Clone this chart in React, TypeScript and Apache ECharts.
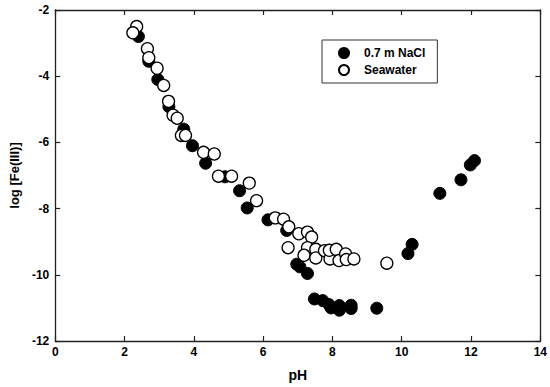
import React, { useEffect, useRef } from "react";
import * as echarts from "echarts";

const xTicks = [0, 2, 4, 6, 8, 10, 12, 14];
const yTicks = [-12, -10, -8, -6, -4, -2];

const naclPH = [2.4, 2.7, 2.96, 3.28, 3.71, 3.96, 4.34, 4.9, 5.32, 5.54, 6.14, 6.68, 6.97, 7.06, 7.28, 7.48, 7.72, 7.9, 7.96, 8.2, 8.2, 8.54, 8.54, 9.28, 10.18, 10.3, 11.1, 11.71, 11.98, 12.1];
const naclFe = [-2.8, -3.55, -4.1, -4.92, -5.6, -6.1, -6.63, -7.04, -7.46, -7.98, -8.34, -8.66, -9.68, -9.76, -9.96, -10.73, -10.78, -10.9, -11.0, -10.93, -11.07, -10.92, -11.02, -11.01, -9.36, -9.08, -7.54, -7.13, -6.68, -6.55];

const swPH = [2.35, 2.24, 2.66, 2.7, 2.94, 3.13, 3.27, 3.4, 3.52, 3.64, 3.76, 4.28, 4.59, 4.71, 5.09, 5.6, 5.81, 6.35, 6.59, 6.74, 6.72, 7.03, 7.28, 7.4, 7.28, 7.18, 7.52, 7.52, 7.77, 7.93, 7.91, 8.11, 8.19, 8.38, 8.4, 8.62, 9.57];
const swFe = [-2.5, -2.69, -3.17, -3.44, -3.76, -4.28, -4.76, -5.18, -5.27, -5.79, -5.79, -6.3, -6.35, -7.02, -7.02, -7.23, -7.76, -8.28, -8.32, -8.55, -9.18, -8.76, -8.71, -8.86, -9.18, -9.41, -9.23, -9.49, -9.27, -9.52, -9.26, -9.23, -9.57, -9.37, -9.54, -9.52, -9.65];

const FONT = "'Liberation Sans', Arial, sans-serif";

export default function App() {
  const ref = useRef<HTMLDivElement>(null);
  useEffect(() => {
    if (!ref.current) return;
    const chart = echarts.init(ref.current, null, { renderer: "svg" });
    const axisCommon = {
      axisLine: { show: true, onZero: false, lineStyle: { color: "#222", width: 1.3 } },
      axisTick: { show: true, inside: true, length: 5, lineStyle: { color: "#222", width: 1.2 } },
      splitLine: { show: false },
    };
    chart.setOption({
      animation: false,
      backgroundColor: "#fff",
      grid: { left: 51, right: 9, top: 10, bottom: 41 },
      xAxis: [
        {
          type: "value", min: 0, max: 14, interval: 2, position: "bottom",
          name: "pH", nameLocation: "middle", nameGap: 27,
          nameTextStyle: { fontFamily: FONT, fontWeight: "bold", fontSize: 14, color: "#000" },
          axisLabel: { fontFamily: FONT, fontWeight: "bold", fontSize: 12, color: "#000", margin: 5,
            formatter: (v: number) => (xTicks.includes(v) ? String(v) : "") },
          ...axisCommon,
        },
        {
          type: "value", min: 0, max: 14, interval: 2, position: "top",
          axisLabel: { show: false }, ...axisCommon,
        },
      ],
      yAxis: [
        {
          type: "value", min: -12, max: -2, interval: 2, position: "left",
          name: "log [Fe(III)]", nameLocation: "middle", nameGap: 30,
          nameTextStyle: { fontFamily: FONT, fontWeight: "bold", fontSize: 13, color: "#000" },
          axisLabel: { fontFamily: FONT, fontWeight: "bold", fontSize: 12, color: "#000", margin: 6,
            formatter: (v: number) => (yTicks.includes(v) ? String(v) : "") },
          ...axisCommon,
        },
        {
          type: "value", min: -12, max: -2, interval: 2, position: "right",
          axisLabel: { show: false }, ...axisCommon,
        },
      ],
      legend: {
        orient: "vertical", left: 322, top: 40, itemGap: 5,
        padding: [7, 12, 7, 16],
        borderColor: "#333", borderWidth: 1,
        itemWidth: 10, itemHeight: 10,
        textStyle: { fontFamily: FONT, fontWeight: "bold", fontSize: 12, color: "#000", padding: [0, 0, 0, 10] },
        data: [
          { name: "0.7 m NaCl", icon: "circle" },
          { name: "Seawater", icon: "circle" },
        ],
      },
      series: [
        {
          name: "0.7 m NaCl", type: "scatter", symbol: "circle", symbolSize: 12,
          data: naclPH.map((x, i) => [x, naclFe[i]]),
          itemStyle: { color: "#000", borderColor: "#000", borderWidth: 1, opacity: 1 },
        },
        {
          name: "Seawater", type: "scatter", symbol: "circle", symbolSize: 12,
          data: swPH.map((x, i) => [x, swFe[i]]),
          itemStyle: { color: "#fff", borderColor: "#000", borderWidth: 1.3, opacity: 1 },
        },
      ],
    });
    return () => chart.dispose();
  }, []);
  return <div ref={ref} style={{ width: 550, height: 387, position: "absolute", left: 0, top: 0 }} />;
}
